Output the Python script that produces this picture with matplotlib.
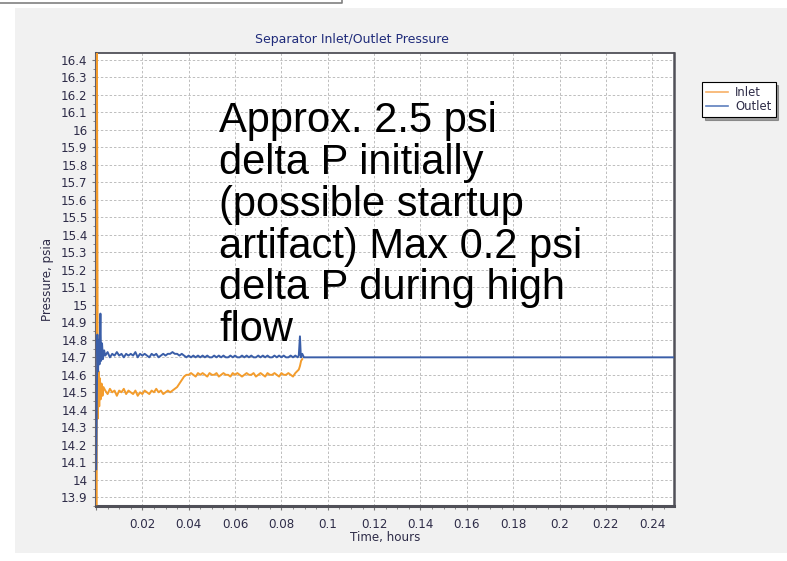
import numpy as np
import matplotlib.pyplot as plt
from matplotlib.patches import Rectangle
from matplotlib.lines import Line2D
from matplotlib.ticker import MultipleLocator, FuncFormatter

# Inlet pressure (hours, psia): startup transient, then logged every 0.001 h
inlet_start_t = [0.0003, 0.0004, 0.0008, 0.0011, 0.0014, 0.0017, 0.0020, 0.0024, 0.0028, 0.0032]
inlet_start_p = [13.86, 16.44, 14.35, 14.62, 14.42, 14.58, 14.46, 14.55, 14.48, 14.53]
inlet_log_t0 = 0.004
inlet_log_p = [14.51, 14.49, 14.52, 14.50, 14.51, 14.48, 14.51, 14.50, 14.52, 14.49,
               14.51, 14.50, 14.49, 14.51, 14.48, 14.50, 14.49, 14.51, 14.50, 14.49,
               14.51, 14.50, 14.52, 14.50, 14.51, 14.49, 14.50, 14.51, 14.50, 14.51,
               14.52, 14.53, 14.55, 14.57, 14.59, 14.60,
               14.60, 14.61, 14.60, 14.59, 14.61, 14.60, 14.61, 14.60, 14.59, 14.61,
               14.60, 14.60, 14.61, 14.59, 14.60, 14.61, 14.60, 14.60, 14.59, 14.61,
               14.60, 14.61, 14.60, 14.59, 14.60, 14.61, 14.60, 14.60, 14.61, 14.59,
               14.60, 14.61, 14.60, 14.59, 14.61, 14.60, 14.60, 14.61, 14.60, 14.59,
               14.61, 14.60, 14.60, 14.61, 14.60, 14.59, 14.61]
inlet_end_t = [0.0875, 0.0880, 0.0885, 0.0890]
inlet_end_p = [14.63, 14.65, 14.68, 14.69]

# Outlet pressure (hours, psia)
outlet_start_t = [0.0001, 0.0006, 0.0009, 0.0012, 0.0015, 0.0019, 0.0022, 0.0026, 0.0030, 0.0035]
outlet_start_p = [14.06, 14.83, 14.62, 14.80, 14.66, 14.95, 14.68, 14.78, 14.69, 14.74]
outlet_log_t0 = 0.004
outlet_log_p = [14.71, 14.73, 14.70, 14.72, 14.71, 14.73, 14.71, 14.72, 14.70, 14.72,
                14.71, 14.72, 14.71, 14.73, 14.70, 14.72, 14.71, 14.72, 14.71, 14.70,
                14.72, 14.71, 14.72, 14.70, 14.71, 14.72, 14.71, 14.72, 14.72, 14.73,
                14.72, 14.72, 14.71, 14.72, 14.71, 14.70, 14.71, 14.70, 14.71, 14.70,
                14.71, 14.70, 14.71, 14.70, 14.71, 14.70, 14.70, 14.71, 14.70, 14.71,
                14.70, 14.71, 14.70, 14.70, 14.71, 14.70, 14.71, 14.70, 14.70, 14.71,
                14.70, 14.71, 14.70, 14.71, 14.70, 14.70, 14.71, 14.70, 14.71, 14.70,
                14.71, 14.70, 14.70, 14.71, 14.70, 14.71, 14.70, 14.71, 14.70, 14.70,
                14.71, 14.70, 14.71, 14.70]
outlet_end_t = [0.0875, 0.0880, 0.0884, 0.0890, 0.0897, 0.0905, 0.2494]
outlet_end_p = [14.71, 14.82, 14.70, 14.72, 14.70, 14.70, 14.70]

log_dt = 0.001

note = ("Approx. 2.5 psi\ndelta P initially\n(possible startup\n"
        "artifact) Max 0.2 psi\ndelta P during high\nflow")


def series(start_t, start_p, t0, log_p, end_t, end_p):
    log_t = t0 + log_dt * np.arange(len(log_p))
    return (np.concatenate([start_t, log_t, end_t]),
            np.concatenate([start_p, log_p, end_p]))


inlet_t, inlet_p = series(inlet_start_t, inlet_start_p, inlet_log_t0, inlet_log_p,
                          inlet_end_t, inlet_end_p)
outlet_t, outlet_p = series(outlet_start_t, outlet_start_p, outlet_log_t0, outlet_log_p,
                            outlet_end_t, outlet_end_p)

W, H = 787, 561
fig = plt.figure(figsize=(W / 100, H / 100), dpi=100, facecolor='white')


def fx(px):
    return px / W


def fy(py):
    return 1 - py / H


# grey panel behind the chart and the frame edge above it
fig.patches.append(Rectangle((fx(15), fy(553)), fx(W - 15), fy(8) - fy(553),
                             transform=fig.transFigure, facecolor='#f1f1f1',
                             edgecolor='none', zorder=-1))
fig.lines.append(Line2D([0, fx(342), fx(342)], [fy(3), fy(3), 1],
                        transform=fig.transFigure, color='#808080', lw=1.2))

ax = fig.add_axes([fx(96), fy(506), fx(674 - 96), fy(53) - fy(506)])
ax.set_facecolor('white')

inlet_c = '#f39c2c'
outlet_c = '#3a5ea8'
ax.plot(inlet_t, inlet_p, color=inlet_c, lw=1.4, zorder=3)
ax.plot(outlet_t, outlet_p, color=outlet_c, lw=1.4, zorder=4)

ax.set_xlim(0, 0.2494)
ax.set_ylim(13.85, 16.44)

ax.xaxis.set_major_locator(MultipleLocator(0.02))
ax.xaxis.set_minor_locator(MultipleLocator(0.005))
ax.yaxis.set_major_locator(MultipleLocator(0.1))
ax.yaxis.set_minor_locator(MultipleLocator(0.05))
ax.xaxis.set_major_formatter(FuncFormatter(lambda v, p: '' if abs(v) < 1e-9 else '%g' % round(v, 3)))
ax.yaxis.set_major_formatter(FuncFormatter(lambda v, p: '%g' % round(v, 2)))

lab_c = '#2e2c48'
ax.tick_params(which='both', direction='out', colors='#777777', labelcolor=lab_c,
               labelsize=8.6)
ax.tick_params(axis='x', which='major', length=3, width=0.8, pad=6)
ax.tick_params(axis='y', which='major', length=3, width=0.8, pad=3)
ax.tick_params(which='minor', length=2, width=0.6)

ax.grid(True, which='major', color='#bdbdbd', lw=0.7, ls=(0, (2.5, 2)))
ax.set_axisbelow(True)

for side, w, c in [('left', 1.5, '#606070'), ('bottom', 2.2, '#505058'),
                   ('top', 1.3, '#505058'), ('right', 1.8, '#505058')]:
    ax.spines[side].set_linewidth(w)
    ax.spines[side].set_color(c)

ax.set_xlabel('Time, hours', fontsize=8.6, color=lab_c, labelpad=0)
ax.set_ylabel('Pressure, psia', fontsize=8.6, color=lab_c, labelpad=5)

fig.text(fx(352), fy(40), 'Separator Inlet/Outlet Pressure', ha='center', va='center',
         fontsize=9, color='#1f2b7a')

fig.text(fx(219), fy(101), note, ha='left', va='top', fontsize=30,
         family='Liberation Sans', color='black', linespacing=1.06, zorder=10)

handles = [Line2D([], [], color='#f7b067', lw=1.2), Line2D([], [], color='#5d7fbd', lw=1.2)]
leg = fig.legend(handles, ['Inlet', 'Outlet'], loc='upper left',
                 bbox_to_anchor=(fx(702), fy(82)), fontsize=8.4, frameon=True,
                 fancybox=False, shadow=True, handlelength=1.9, handletextpad=0.6,
                 borderpad=0.35, labelspacing=0.05, borderaxespad=0)
leg.get_frame().set_edgecolor('black')
leg.get_frame().set_linewidth(0.8)
for t in leg.get_texts():
    t.set_color(lab_c)

fig.savefig('out.png', dpi=100, facecolor=fig.get_facecolor())
